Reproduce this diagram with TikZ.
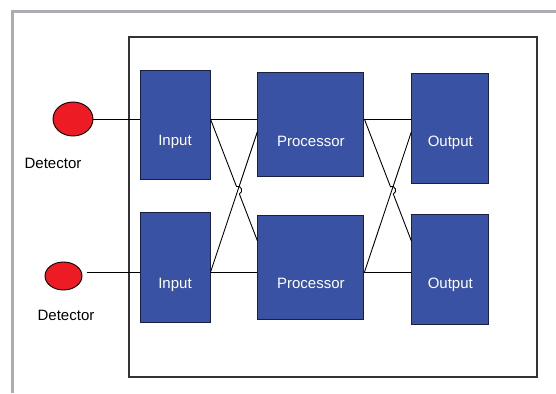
\documentclass[tikz,border=0pt]{standalone}
\usepackage{fontspec}
\setmainfont{Liberation Sans}
\usepackage{xcolor}
\usetikzlibrary{shapes.geometric, positioning, calc}

\definecolor{unitblue}{RGB}{58,82,164}
\definecolor{unitedge}{RGB}{28,32,64}
\definecolor{detred}{RGB}{237,28,36}
\definecolor{pagegray}{RGB}{172,172,176}

\begin{document}
\begin{tikzpicture}[
    x=1pt, y=-1pt,
    node distance=33pt and 47pt,
    unit/.style={rectangle, draw=unitedge, fill=unitblue, text=white, line width=0.9pt, inner sep=0pt, text height=41pt, text depth=0pt, font=\fontsize{15}{18}\selectfont},
    detector/.style={ellipse, draw=black, fill=detred, line width=0.9pt, inner sep=0pt},
    caption/.style={inner sep=0pt, font=\fontsize{15}{18}\selectfont},
    wire/.style={line width=0.9pt}
]
\useasboundingbox (0,0) rectangle (556,393);

% Page frame
\draw[pagegray, line width=3pt] (12,393) -- (12,12) -- (556,12);

% Enclosure
\node[draw=black!80, line width=1.4pt, minimum width=408pt, minimum height=340pt, inner sep=0pt] (enclosure) at (333,207) {};

% Input stage
\node[unit, minimum width=70pt, minimum height=109pt] (in1) at (175,124.5) {Input};
\node[unit, minimum width=70pt, minimum height=110pt, below=of in1] (in2) {Input};

% Processor stage
\node[unit, minimum width=106pt, minimum height=104pt, text height=44pt, right=of in1] (proc1) {Processor};
\node[unit, minimum width=106pt, minimum height=104pt, text height=42pt, right=of in2] (proc2) {Processor};

% Output stage
\node[unit, minimum width=77pt, minimum height=110pt, text height=37pt, right=of proc1, yshift=-3.5pt] (out1) {Output};
\node[unit, minimum width=77pt, minimum height=110pt, text height=37pt, right=of proc2, yshift=-2pt] (out2) {Output};

% Detectors
\node[detector, minimum width=40pt, minimum height=34pt] (det1) at (73,119) {};
\node[detector, minimum width=37pt, minimum height=28pt] (det2) at (63.5,276) {};
\node[caption, below=22pt of det1, xshift=-20pt] (det1_lbl) {Detector};
\node[caption, below=20pt of det2, xshift=2.5pt] (det2_lbl) {Detector};

% Signal rows
\coordinate (row1) at (det1.east);
\coordinate (row2) at ([yshift=-4.5pt]in2.west);

% Wires - detectors to inputs
\draw[wire] (det1.east) -- (in1.west |- row1);
\draw[wire] ([xshift=5pt]det2.east |- row2) -- (in2.west |- row2);

% Wires - inputs to processors
\coordinate (a1) at (in1.east |- row1);
\coordinate (a2) at ([yshift=27pt]proc2.west);
\coordinate (b1) at (in2.east |- row2);
\coordinate (b2) at ([yshift=-7pt]proc1.west);
\coordinate (hop1) at (intersection of a1--a2 and b1--b2);
\draw[wire] (a1) -- (proc1.west |- row1);
\draw[wire] (b1) -- (proc2.west |- row2);
\draw[wire] (b1) -- (b2);
\draw[wire] (a1) -- ($(hop1)!4pt!(a1)$) to[bend left=90, looseness=1.6] ($(hop1)!4pt!(a2)$) -- (a2);

% Wires - processors to outputs
\coordinate (c1) at (proc1.east |- row1);
\coordinate (c2) at ([yshift=29pt]out2.west);
\coordinate (d1) at (proc2.east |- row2);
\coordinate (d2) at ([yshift=-4pt]out1.west);
\coordinate (hop2) at (intersection of c1--c2 and d1--d2);
\draw[wire] (c1) -- (out1.west |- row1);
\draw[wire] (d1) -- (out2.west |- row2);
\draw[wire] (d1) -- (d2);
\draw[wire] (c1) -- ($(hop2)!4pt!(c1)$) to[bend left=90, looseness=1.6] ($(hop2)!4pt!(c2)$) -- (c2);

\end{tikzpicture}
\end{document}
